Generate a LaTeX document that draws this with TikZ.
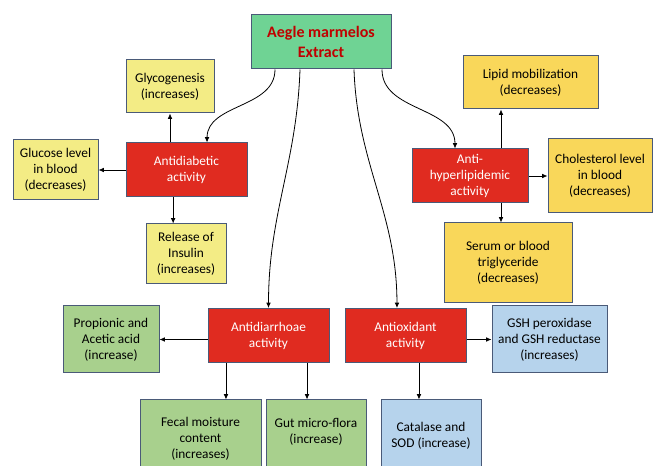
\documentclass[tikz,border=0pt]{standalone}
\usepackage{fontspec}
\setmainfont{Carlito}
\usetikzlibrary{arrows.meta,positioning}
\definecolor{edgeC}{HTML}{4A5A78}
\definecolor{titleG}{HTML}{6FD394}
\definecolor{titleR}{HTML}{C00000}
\definecolor{actR}{HTML}{E02B20}
\definecolor{paleY}{HTML}{F3EC85}
\definecolor{goldY}{HTML}{F9D75A}
\definecolor{leafG}{HTML}{A8D08D}
\definecolor{skyB}{HTML}{B6D3EC}

\begin{document}
\begin{tikzpicture}[x=0.75pt, y=-0.75pt, font=\fontsize{10}{12}\selectfont,
  bx/.style={draw=edgeC, line width=0.75pt, align=center, inner sep=2pt},
  act/.style={bx, fill=actR, text=white, minimum width=90.75pt, minimum height=40.5pt},
  eff/.style={-{Latex[length=4pt,width=3.5pt]}, line width=0.6pt},
  lnk/.style={-{Latex[length=4pt,width=3.5pt]}, line width=0.6pt}]
\useasboundingbox (0,0) rectangle (658,466);
% top
\node[bx, fill=titleG, text=titleR, font=\fontsize{12}{15}\selectfont\bfseries,
  minimum width=105pt, minimum height=40.5pt] (ext) at (321,42) {Aegle marmelos\\Extract};
% activities
\node[act] (diab) at (186.5,170) {Antidiabetic\\activity};
\node[act, minimum width=87pt] (lipd) at (470,176) {Anti-\\hyperlipidemic\\activity};
\node[act] (diar) at (268.5,335.5) {Antidiarrhoae\\activity};
\node[act] (oxid) at (405.5,335.5) {Antioxidant\\activity};
% antidiabetic effects
\node[bx, fill=paleY, minimum width=66pt, minimum height=39.75pt] (glyc) at (170,86.5) {Glycogenesis\\(increases)};
\node[bx, fill=paleY, minimum width=63.75pt, minimum height=45pt] (gluc) at (55.5,170) {Glucose level\\in blood\\(decreases)};
\node[bx, fill=paleY, minimum width=60pt, minimum height=45pt] (insu) at (186,254) {Release of\\Insulin\\(increases)};
% lipid effects
\node[bx, fill=goldY, minimum width=101.25pt, minimum height=39.75pt] (mobi) at (530.5,82.5) {Lipid mobilization\\(decreases)};
\node[bx, fill=goldY, minimum width=78pt, minimum height=55.5pt] (chol) at (600,176) {Cholesterol level\\in blood\\(decreases)};
\node[bx, fill=goldY, minimum width=96pt, minimum height=60pt] (trig) at (508,263) {Serum or blood\\triglyceride\\(decreases)};
% diarrhoea effects
\node[bx, fill=leafG, minimum width=72pt, minimum height=50.25pt] (prop) at (111,339.5) {Propionic and\\Acetic acid\\(increase)};
\node[bx, fill=leafG, minimum width=90.75pt, minimum height=58.5pt] (feca) at (200.5,439) {Fecal moisture\\content\\(increases)};
\node[bx, fill=leafG, minimum width=75pt, minimum height=58.5pt] (flor) at (316,439) {Gut micro-flora\\(increase)\\~};
% antioxidant effects
\node[bx, fill=skyB, minimum width=75pt, minimum height=54pt] (cata) at (431,436) {Catalase and\\SOD (increase)};
\node[bx, fill=skyB, minimum width=86.25pt, minimum height=50.25pt] (gshx) at (549.5,339.5) {GSH peroxidase\\and GSH reductase\\(increases)};
% extract to activities
\draw[lnk] ([xshift=-34.5pt]ext.south) to[out=-90,in=90] ([xshift=15.4pt]diab.north);
\draw[lnk] ([xshift=45.75pt]ext.south) to[out=-90,in=90] ([xshift=-11.25pt]lipd.north);
\draw[lnk] ([xshift=-15.75pt]ext.south) to[out=-92,in=90] (diar.north);
\draw[lnk] ([xshift=24.75pt]ext.south) to[out=-88,in=90] ([xshift=-6.4pt]oxid.north);
% activity effects
\draw[eff] (diab.north -| glyc) -- (glyc.south);
\draw[eff] (diab.west) -- (gluc.east);
\draw[eff] ([xshift=-10pt]diab.south) -- ([xshift=-10pt]diab.south |- insu.north);
\draw[eff] ([xshift=23.25pt]lipd.north) -- ([xshift=23.25pt]lipd.north |- mobi.south);
\draw[eff] (lipd.east) -- (chol.west);
\draw[eff] ([xshift=23.25pt]lipd.south) -- ([xshift=23.25pt]lipd.south |- trig.north);
\draw[eff] (diar.west |- prop) -- (prop.east);
\draw[eff] ([xshift=-31.9pt]diar.south) -- ([xshift=-31.9pt]diar.south |- feca.north);
\draw[eff] ([xshift=28.9pt]diar.south) -- ([xshift=28.9pt]diar.south |- flor.north);
\draw[eff] (oxid.east |- gshx) -- (gshx.west);
\draw[eff] ([xshift=10.1pt]oxid.south) -- ([xshift=10.1pt]oxid.south |- cata.north);
\end{tikzpicture}
\end{document}
